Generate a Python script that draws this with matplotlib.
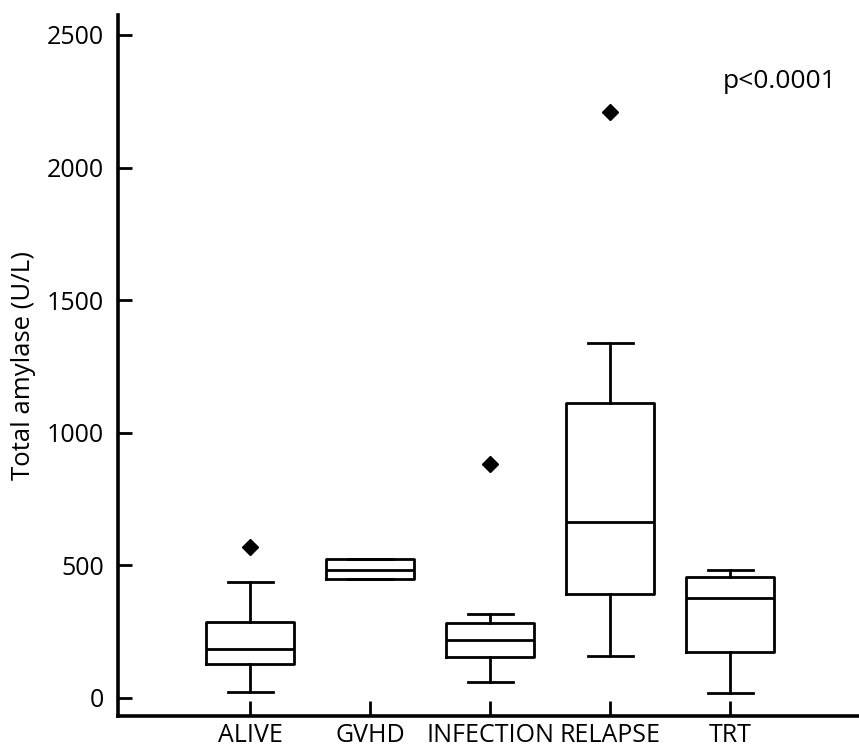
import matplotlib
matplotlib.use("Agg")
import matplotlib.pyplot as plt

categories = ['ALIVE', 'GVHD', 'INFECTION', 'RELAPSE', 'TRT']
whislo = [23, 448, 60, 158, 20]
q1 = [129, 448, 156, 391, 172]
med = [185, 483, 219, 665, 376]
q3 = [288, 525, 284, 1112, 457]
whishi = [436, 525, 318, 1337, 484]
fliers = [[570], [], [882], [2210], []]
yticks = [0, 500, 1000, 1500, 2000, 2500]

plt.rcParams['font.family'] = ['Open Sans', 'DejaVu Sans']

fig = plt.figure(figsize=(8.59, 7.49), dpi=100)
ax = fig.add_axes([118/859, 33/749, 1 - 118/859, (716-15)/749])

stats = []
for i, c in enumerate(categories):
    stats.append(dict(label=c, whislo=whislo[i], q1=q1[i], med=med[i],
                      q3=q3[i], whishi=whishi[i], fliers=fliers[i]))

lw = 2.0
ax.bxp(stats, positions=range(len(categories)), widths=0.73, capwidths=0.375,
       boxprops=dict(color='black', linewidth=lw),
       medianprops=dict(color='black', linewidth=lw),
       whiskerprops=dict(color='black', linewidth=lw),
       capprops=dict(color='black', linewidth=lw),
       flierprops=dict(marker='D', markerfacecolor='black', markeredgecolor='black',
                       markersize=8))

ax.set_xlim(-1.1, 5.075)
ax.set_ylim(-68, 2575)
ax.set_yticks(yticks)
ax.set_yticklabels([str(v) for v in yticks])
ax.set_xticks(range(len(categories)))
ax.set_xticklabels(categories)

for s in ['top', 'right']:
    ax.spines[s].set_visible(False)
for s in ['left', 'bottom']:
    ax.spines[s].set_linewidth(2.6)

ax.tick_params(axis='y', direction='in', length=10, width=2, labelsize=18, pad=10)
ax.tick_params(axis='x', direction='in', length=11, width=2, labelsize=18, pad=5)

ax.set_ylabel('Total amylase (U/L)', fontsize=18.5, labelpad=8)
ax.text(0.97, 0.905, 'p<0.0001', transform=ax.transAxes, ha='right', va='center', fontsize=19)

fig.savefig('out.png', dpi=100)
